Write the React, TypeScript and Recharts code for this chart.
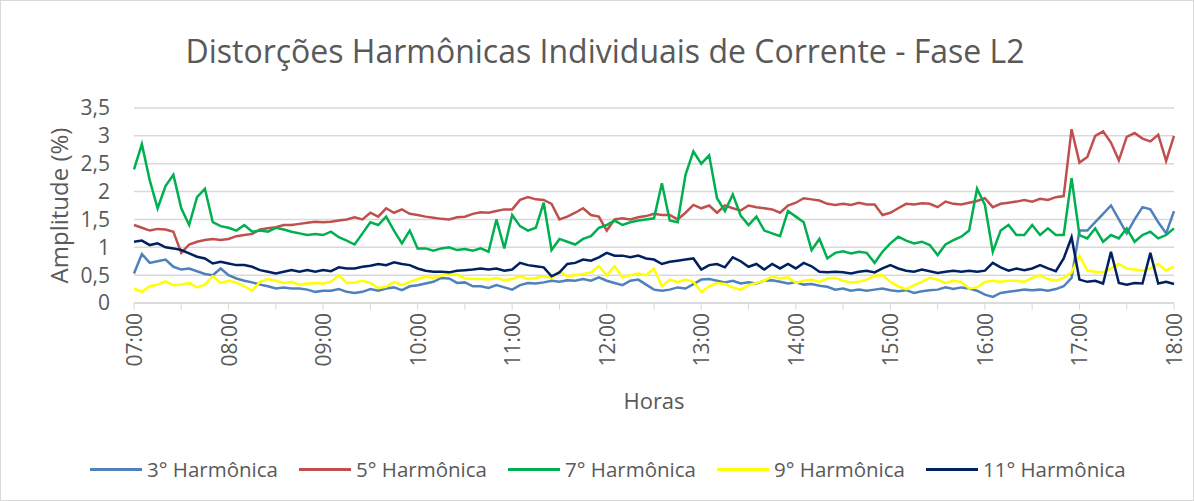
import { LineChart, Line, XAxis, YAxis, CartesianGrid } from 'recharts';

// 5-minute samples, 07:00 -> 18:00
const TIMES = [
  '07:00', '07:05', '07:10', '07:15', '07:20', '07:25', '07:30', '07:35', '07:40', '07:45', '07:50', '07:55',
  '08:00', '08:05', '08:10', '08:15', '08:20', '08:25', '08:30', '08:35', '08:40', '08:45', '08:50', '08:55',
  '09:00', '09:05', '09:10', '09:15', '09:20', '09:25', '09:30', '09:35', '09:40', '09:45', '09:50', '09:55',
  '10:00', '10:05', '10:10', '10:15', '10:20', '10:25', '10:30', '10:35', '10:40', '10:45', '10:50', '10:55',
  '11:00', '11:05', '11:10', '11:15', '11:20', '11:25', '11:30', '11:35', '11:40', '11:45', '11:50', '11:55',
  '12:00', '12:05', '12:10', '12:15', '12:20', '12:25', '12:30', '12:35', '12:40', '12:45', '12:50', '12:55',
  '13:00', '13:05', '13:10', '13:15', '13:20', '13:25', '13:30', '13:35', '13:40', '13:45', '13:50', '13:55',
  '14:00', '14:05', '14:10', '14:15', '14:20', '14:25', '14:30', '14:35', '14:40', '14:45', '14:50', '14:55',
  '15:00', '15:05', '15:10', '15:15', '15:20', '15:25', '15:30', '15:35', '15:40', '15:45', '15:50', '15:55',
  '16:00', '16:05', '16:10', '16:15', '16:20', '16:25', '16:30', '16:35', '16:40', '16:45', '16:50', '16:55',
  '17:00', '17:05', '17:10', '17:15', '17:20', '17:25', '17:30', '17:35', '17:40', '17:45', '17:50', '17:55',
  '18:00',
];

const HOUR_LABELS = [
  '07:00', '08:00', '09:00', '10:00', '11:00', '12:00',
  '13:00', '14:00', '15:00', '16:00', '17:00', '18:00',
];

const Y_TICKS = [0, 0.5, 1, 1.5, 2, 2.5, 3, 3.5];

const H3 = [
  0.53, 0.88, 0.72, 0.75, 0.78, 0.65, 0.60, 0.62, 0.57, 0.52, 0.50, 0.62,
  0.50, 0.44, 0.40, 0.37, 0.33, 0.30, 0.26, 0.28, 0.26, 0.26, 0.24, 0.20,
  0.22, 0.22, 0.25, 0.20, 0.18, 0.20, 0.25, 0.22, 0.26, 0.28, 0.23, 0.30,
  0.32, 0.35, 0.38, 0.45, 0.44, 0.36, 0.37, 0.30, 0.30, 0.27, 0.32, 0.28,
  0.24, 0.32, 0.36, 0.35, 0.37, 0.40, 0.38, 0.41, 0.40, 0.43, 0.40, 0.46,
  0.40, 0.36, 0.32, 0.40, 0.42, 0.33, 0.24, 0.22, 0.24, 0.28, 0.26, 0.34,
  0.42, 0.43, 0.40, 0.37, 0.40, 0.35, 0.37, 0.35, 0.40, 0.41, 0.38, 0.35,
  0.37, 0.33, 0.34, 0.31, 0.29, 0.24, 0.26, 0.22, 0.24, 0.22, 0.24, 0.26,
  0.23, 0.21, 0.23, 0.18, 0.21, 0.23, 0.24, 0.28, 0.25, 0.28, 0.26, 0.22,
  0.15, 0.11, 0.18, 0.20, 0.22, 0.24, 0.23, 0.24, 0.22, 0.25, 0.30, 0.45,
  1.30, 1.30, 1.45, 1.60, 1.75, 1.50, 1.25, 1.50, 1.72, 1.68, 1.45, 1.25,
  1.65,
];

const H5 = [
  1.40, 1.35, 1.30, 1.33, 1.32, 1.28, 0.90, 1.05, 1.10, 1.13, 1.15, 1.13,
  1.15, 1.20, 1.22, 1.24, 1.32, 1.34, 1.36, 1.40, 1.40, 1.42, 1.44, 1.46,
  1.45, 1.46, 1.48, 1.50, 1.54, 1.50, 1.62, 1.55, 1.70, 1.62, 1.68, 1.60,
  1.58, 1.55, 1.53, 1.51, 1.50, 1.54, 1.55, 1.60, 1.63, 1.62, 1.65, 1.68,
  1.68, 1.85, 1.90, 1.86, 1.85, 1.78, 1.50, 1.55, 1.62, 1.70, 1.58, 1.55,
  1.30, 1.50, 1.52, 1.50, 1.54, 1.56, 1.60, 1.58, 1.58, 1.50, 1.62, 1.76,
  1.70, 1.75, 1.62, 1.75, 1.70, 1.66, 1.75, 1.72, 1.70, 1.68, 1.62, 1.75,
  1.80, 1.88, 1.86, 1.84, 1.78, 1.76, 1.78, 1.76, 1.80, 1.77, 1.77, 1.58,
  1.62, 1.70, 1.78, 1.77, 1.79, 1.78, 1.72, 1.82, 1.78, 1.77, 1.80, 1.83,
  1.88, 1.72, 1.78, 1.80, 1.82, 1.85, 1.82, 1.87, 1.85, 1.90, 1.92, 3.12,
  2.52, 2.62, 3.00, 3.08, 2.88, 2.56, 2.98, 3.05, 2.95, 2.90, 3.02, 2.55,
  3.00,
];

const H7 = [
  2.40, 2.85, 2.20, 1.70, 2.10, 2.30, 1.70, 1.40, 1.90, 2.05, 1.45, 1.38,
  1.35, 1.30, 1.40, 1.28, 1.30, 1.28, 1.35, 1.32, 1.28, 1.25, 1.22, 1.24,
  1.22, 1.28, 1.18, 1.12, 1.05, 1.25, 1.45, 1.40, 1.55, 1.30, 1.07, 1.30,
  0.98, 0.98, 0.94, 0.98, 1.00, 0.95, 0.97, 0.94, 0.98, 0.92, 1.50, 0.98,
  1.58, 1.38, 1.30, 1.35, 1.80, 0.95, 1.15, 1.10, 1.05, 1.15, 1.20, 1.35,
  1.40, 1.48, 1.40, 1.45, 1.48, 1.50, 1.52, 2.15, 1.48, 1.45, 2.30, 2.72,
  2.50, 2.65, 1.88, 1.65, 1.95, 1.57, 1.40, 1.55, 1.30, 1.25, 1.20, 1.65,
  1.55, 1.45, 0.95, 1.15, 0.80, 0.90, 0.93, 0.89, 0.92, 0.90, 0.72, 0.92,
  1.07, 1.19, 1.12, 1.07, 1.10, 1.04, 0.86, 1.05, 1.13, 1.19, 1.30, 2.05,
  1.76, 0.92, 1.30, 1.40, 1.22, 1.22, 1.40, 1.22, 1.34, 1.22, 1.22, 2.24,
  1.22, 1.16, 1.34, 1.10, 1.22, 1.16, 1.34, 1.10, 1.22, 1.28, 1.16, 1.22,
  1.34,
];

const H9 = [
  0.26, 0.20, 0.30, 0.33, 0.39, 0.32, 0.33, 0.36, 0.28, 0.33, 0.48, 0.36,
  0.40, 0.37, 0.30, 0.22, 0.38, 0.43, 0.40, 0.36, 0.38, 0.33, 0.35, 0.36,
  0.35, 0.38, 0.50, 0.36, 0.37, 0.40, 0.36, 0.27, 0.29, 0.38, 0.32, 0.38,
  0.43, 0.47, 0.45, 0.49, 0.52, 0.51, 0.44, 0.43, 0.43, 0.42, 0.45, 0.41,
  0.43, 0.48, 0.43, 0.45, 0.48, 0.45, 0.56, 0.48, 0.50, 0.52, 0.55, 0.66,
  0.50, 0.66, 0.46, 0.50, 0.53, 0.50, 0.62, 0.30, 0.42, 0.38, 0.42, 0.38,
  0.20, 0.30, 0.36, 0.34, 0.28, 0.24, 0.32, 0.36, 0.40, 0.48, 0.44, 0.46,
  0.36, 0.40, 0.42, 0.38, 0.44, 0.45, 0.40, 0.37, 0.38, 0.42, 0.49, 0.50,
  0.38, 0.30, 0.25, 0.32, 0.38, 0.45, 0.42, 0.36, 0.40, 0.38, 0.26, 0.28,
  0.38, 0.40, 0.38, 0.40, 0.40, 0.38, 0.45, 0.50, 0.43, 0.40, 0.45, 0.55,
  0.85, 0.58, 0.56, 0.55, 0.62, 0.70, 0.62, 0.60, 0.58, 0.62, 0.70, 0.58,
  0.66,
];

const H11 = [
  1.10, 1.12, 1.04, 1.07, 1.00, 0.98, 0.95, 0.89, 0.83, 0.80, 0.71, 0.74,
  0.71, 0.68, 0.68, 0.65, 0.59, 0.56, 0.53, 0.56, 0.59, 0.56, 0.59, 0.56,
  0.59, 0.57, 0.64, 0.62, 0.62, 0.65, 0.67, 0.70, 0.68, 0.73, 0.70, 0.68,
  0.62, 0.58, 0.56, 0.56, 0.55, 0.58, 0.59, 0.60, 0.62, 0.60, 0.62, 0.58,
  0.60, 0.72, 0.68, 0.66, 0.64, 0.48, 0.55, 0.70, 0.72, 0.78, 0.76, 0.82,
  0.90, 0.85, 0.85, 0.82, 0.85, 0.80, 0.78, 0.70, 0.74, 0.76, 0.78, 0.80,
  0.60, 0.68, 0.70, 0.64, 0.82, 0.75, 0.65, 0.70, 0.60, 0.70, 0.62, 0.70,
  0.62, 0.72, 0.66, 0.56, 0.55, 0.56, 0.55, 0.53, 0.56, 0.58, 0.55, 0.62,
  0.68, 0.62, 0.58, 0.56, 0.60, 0.57, 0.54, 0.56, 0.58, 0.56, 0.58, 0.56,
  0.58, 0.72, 0.64, 0.58, 0.62, 0.59, 0.62, 0.68, 0.62, 0.57, 0.80, 1.18,
  0.42, 0.38, 0.40, 0.35, 0.92, 0.36, 0.33, 0.36, 0.35, 0.90, 0.35, 0.38,
  0.34,
];

const SERIES = [
  { key: 'h3', name: '3° Harmônica', color: '#4F81BD', values: H3 },
  { key: 'h5', name: '5° Harmônica', color: '#C0504D', values: H5 },
  { key: 'h7', name: '7° Harmônica', color: '#00B050', values: H7 },
  { key: 'h9', name: '9° Harmônica', color: '#FFFF00', values: H9 },
  { key: 'h11', name: '11° Harmônica', color: '#002060', values: H11 },
];

const data = TIMES.map((time, i) => {
  const row: Record<string, string | number> = { time };
  SERIES.forEach((s) => { row[s.key] = s.values[i]; });
  return row;
});

const FONT = '"Open Sans", sans-serif';
const TEXT = '#595959';
const GRID = '#d9d9d9';

// only the full hours carry a label, the half-hour ticks are bare marks
const HourTick = ({ x, y, payload }: any) => {
  if (!HOUR_LABELS.includes(payload.value)) return <g />;
  return (
    <text x={x} y={y} transform={`rotate(-90 ${x} ${y})`} textAnchor="end" dominantBaseline="central"
      fill={TEXT} fontSize={21} fontFamily={FONT}>
      {payload.value}
    </text>
  );
};

export default function App() {
  return (
    <div style={{ position: 'absolute', left: 0, top: 0, width: 1194, height: 501, background: '#fff', fontFamily: FONT }}>
      <div style={{ position: 'absolute', left: 605, top: 30, transform: 'translateX(-50%)', whiteSpace: 'nowrap',
        fontSize: 32, lineHeight: '42px', color: TEXT }}>
        Distorções Harmônicas Individuais de Corrente - Fase L2
      </div>

      <LineChart width={1194} height={501} data={data} margin={{ top: 108, right: 20, left: 0, bottom: 108 }}>
        <CartesianGrid vertical={false} stroke={GRID} strokeWidth={1.5} />
        <XAxis dataKey="time" interval={5} tick={<HourTick />} tickSize={7} tickMargin={3} height={90}
          tickLine={{ stroke: GRID }} axisLine={{ stroke: GRID, strokeWidth: 1.5 }}
          label={{
            content: ({ viewBox }: any) => (
              <text x={viewBox.x + viewBox.width / 2} y={400} textAnchor="middle" dominantBaseline="central"
                fill={TEXT} fontSize={22} fontFamily={FONT}>Horas</text>
            ),
          }} />
        <YAxis domain={[0, 3.5]} ticks={Y_TICKS} interval={0} width={134} axisLine={false} tickLine={false}
          tickSize={0} tickMargin={0} tick={{ fill: TEXT, fontSize: 21, fontFamily: FONT, dx: -24 }}
          tickFormatter={(v) => String(v).replace('.', ',')}
          label={{
            content: ({ viewBox }: any) => {
              const cy = viewBox.y + viewBox.height / 2;
              return (
                <text x={58} y={cy} transform={`rotate(-90 58 ${cy})`} textAnchor="middle" dominantBaseline="central"
                  fill={TEXT} fontSize={24} fontFamily={FONT}>Amplitude (%)</text>
              );
            },
          }} />
        {SERIES.map((s) => (
          <Line key={s.key} type="linear" dataKey={s.key} name={s.name} stroke={s.color} strokeWidth={2.5}
            dot={false} activeDot={false} isAnimationActive={false} />
        ))}
      </LineChart>

      <div style={{ position: 'absolute', left: 90, top: 454, height: 30, display: 'flex', alignItems: 'center', gap: 21 }}>
        {SERIES.map((s) => (
          <div key={s.key} style={{ display: 'flex', alignItems: 'center' }}>
            <span style={{ display: 'inline-block', width: 52, height: 3, background: s.color }} />
            <span style={{ marginLeft: 5, fontSize: 20.5, color: TEXT, whiteSpace: 'nowrap' }}>{s.name}</span>
          </div>
        ))}
      </div>

      <div style={{ position: 'absolute', left: 0, top: 0, width: 1194, height: 501, boxSizing: 'border-box',
        border: '1px solid #d9d9d9', pointerEvents: 'none' }} />
    </div>
  );
}
